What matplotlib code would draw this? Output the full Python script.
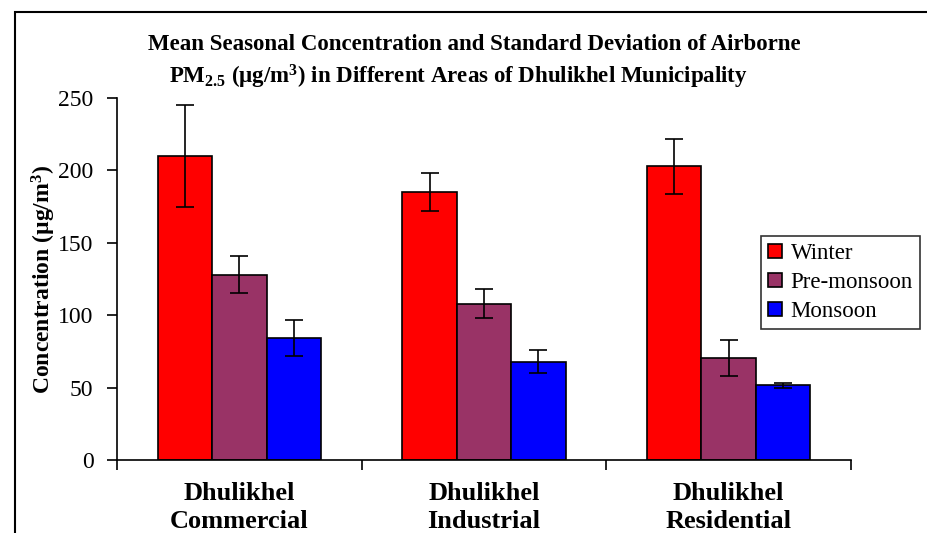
import matplotlib
matplotlib.use("Agg")
import matplotlib.pyplot as plt
import matplotlib.transforms as mtransforms
import numpy as np
from matplotlib.patches import Rectangle

categories = ["Dhulikhel\nCommercial", "Dhulikhel\nIndustrial", "Dhulikhel\nResidential"]
series = ["Winter", "Pre-monsoon", "Monsoon"]
winter = [210, 185, 203]
winter_sd = [35, 13, 19]
premonsoon = [128, 108, 70.5]
premonsoon_sd = [13, 10, 12.5]
monsoon = [84, 68, 51.5]
monsoon_sd = [12.5, 8, 2]
colors = ["#FF0000", "#993366", "#0000FF"]
yticks = [0, 50, 100, 150, 200, 250]

plt.rcParams['font.family'] = ['Liberation Serif', 'DejaVu Serif']
plt.rcParams['mathtext.fontset'] = 'custom'
plt.rcParams['mathtext.rm'] = 'Liberation Serif'
plt.rcParams['mathtext.bf'] = 'Liberation Serif:bold'
plt.rcParams['mathtext.it'] = 'Liberation Serif:italic'

W, H = 928, 533
fig = plt.figure(figsize=(W/100, H/100), dpi=100)
ax = fig.add_axes([117/W, 1-460/H, (851-117)/W, (460-98)/H])

x = np.arange(len(categories))
bw = 1/4.5
vals = [winter, premonsoon, monsoon]
sds = [winter_sd, premonsoon_sd, monsoon_sd]
for i, (v, s, c, name) in enumerate(zip(vals, sds, colors, series)):
    ax.bar(x + (i-1)*bw, v, width=bw, color=c, edgecolor='black', linewidth=1.2,
           yerr=s, capsize=6.5, error_kw=dict(ecolor='black', elinewidth=1.2, capthick=1.2),
           label=name, zorder=2)

ax.set_xlim(-0.5, 2.5)
ax.set_ylim(0, 250)
ax.set_yticks(yticks)
ax.set_yticklabels([str(t) for t in yticks], fontsize=17)
ax.tick_params(axis='y', direction='out', length=7, width=1.2, pad=10)
ax.set_xticks([-0.5, 0.5, 1.5, 2.5])
ax.set_xticklabels([])
ax.tick_params(axis='x', direction='out', length=7, width=1.2)
for s in ['top', 'right']:
    ax.spines[s].set_visible(False)
for s in ['left', 'bottom']:
    ax.spines[s].set_linewidth(1.2)

trans = mtransforms.blended_transform_factory(ax.transData, fig.transFigure)
for xi, lab in zip(x, categories):
    l1, l2 = lab.split("\n")
    ax.text(xi, 1-494/H, l1, ha='center', va='center', fontsize=19, fontweight='bold',
            transform=trans)
    ax.text(xi, 1-522/H, l2, ha='center', va='center', fontsize=19, fontweight='bold',
            transform=trans)

fig.text(44/W, 1-279/H, "Concentration (µg/m$^{\\mathbf{3}}$)", rotation=90,
         ha='center', va='center', fontsize=17, fontweight='bold')

fig.text(474/W, 1-44/H, "Mean Seasonal Concentration and Standard Deviation of Airborne",
         ha='center', va='center', fontsize=16.5, fontweight='bold')
fig.text(458/W, 1-77/H, "PM$_{\\mathbf{2.5}}$ (µg/m$^{\\mathbf{3}}$) in Different Areas of Dhulikhel Municipality",
         ha='center', va='center', fontsize=16.5, fontweight='bold')

leg = ax.legend(loc='upper left', bbox_to_anchor=(761/W, 1-236/H), bbox_transform=fig.transFigure,
                fontsize=16.5, frameon=True, fancybox=False, edgecolor='black',
                handlelength=0.6, handleheight=0.6, handletextpad=0.4, borderpad=0.3,
                labelspacing=0.35, borderaxespad=0)
leg.get_frame().set_linewidth(1.2)

fig.patches.append(Rectangle((15/W, -0.1), 1.2, 1.1-12/H, transform=fig.transFigure,
                             fill=False, edgecolor='black', linewidth=1.5))

fig.savefig("out.png", dpi=100)
